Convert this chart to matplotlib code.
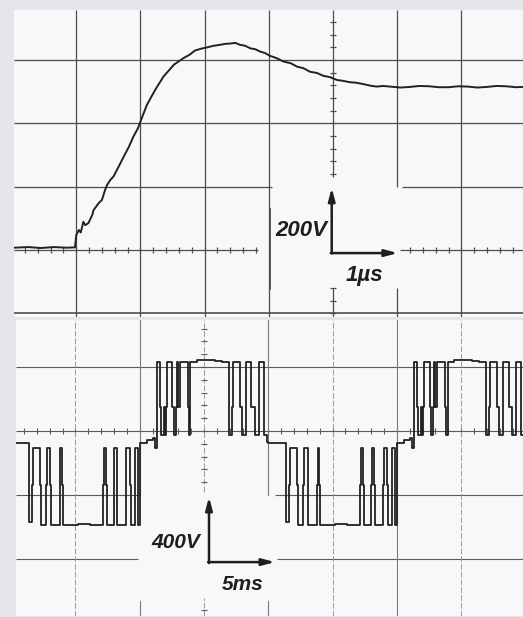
"""
Two oscilloscope screens: the rise of the output voltage (top) and the
multilevel PWM output voltage over two periods (bottom).
"""

import matplotlib
matplotlib.use("Agg")
import matplotlib.pyplot as plt
from matplotlib import font_manager

# ---- top screen: step response, 1 us/div, 200 V/div ----
rise_time_us = [-4.97, -4.75, -4.55, -4.35, -4.15, -4.02, -4.00, -3.96, -3.93,
                -3.89, -3.86, -3.81, -3.75, -3.73, -3.65, -3.60, -3.55, -3.52,
                -3.47, -3.42, -3.34, -3.26, -3.18, -3.11, -3.04, -2.99, -2.90,
                -2.77, -2.64, -2.48, -2.33, -2.24, -2.15, -2.05, -1.96, -1.86,
                -1.76, -1.68, -1.60, -1.52, -1.45, -1.37, -1.29, -1.21, -1.14,
                -1.06, -0.98, -0.88, -0.77, -0.66, -0.56, -0.46, -0.36, -0.25,
                -0.15, -0.05, 0.06, 0.16, 0.26, 0.37, 0.47, 0.58, 0.68, 0.78,
                0.89, 1.05, 1.20, 1.35, 1.50, 1.65, 1.80, 1.95, 2.10, 2.25,
                2.40, 2.55, 2.70, 2.85, 2.96]
rise_volt = [7, 9, 6, 9, 7, 8, 47, 63, 55,
             89, 78, 85, 111, 126, 148, 158, 190, 205,
             221, 232, 263, 295, 326, 358, 384, 411, 458,
             506, 548, 585, 606, 616, 630, 636, 640, 645,
             648, 651, 652, 654, 648, 645, 637, 634, 627,
             622, 613, 606, 595, 590, 579, 574, 563, 559,
             550, 546, 537, 534, 530, 528, 524, 519, 516, 518,
             516, 513, 515, 518, 517, 514, 514, 517, 516, 513,
             515, 518, 517, 514, 515]

# ---- bottom screen: PWM output, 5 ms/div, 400 V/div ----
# switching edges inside one half cycle (ms from its start) and level after it
pos_edge_ms = [0.00, 0.57, 1.03, 1.19, 1.35, 1.54, 1.62, 1.89, 1.97, 2.05,
               2.12, 2.55, 2.69, 2.80, 2.90, 3.00, 3.11, 3.78, 3.83, 3.95,
               4.46, 5.86, 6.40, 6.93, 6.97, 7.15, 7.28, 7.80, 7.93, 8.24,
               8.69, 8.97, 9.28, 9.69, 9.88]
pos_level_v = [-75, -56, -44, -106, 431, 150, -25, 150, -25, 150,
               431, 150, -25, 150, 431, 150, 431, 150, -25, 431,
               444, 437, 431, 150, -25, 150, 431, 150, -25, 431,
               150, -25, 431, -25, -69]
neg_edge_ms = [0.00, 1.39, 1.59, 1.70, 2.25, 2.33, 2.71, 2.79, 3.06, 3.10,
               3.80, 3.84, 3.96, 4.00, 5.20, 6.10, 7.15, 7.19, 7.38, 7.42,
               8.00, 8.04, 8.23, 8.27, 8.94, 8.97, 9.25, 9.29, 9.60, 9.64,
               9.83, 9.87]
neg_level_v = [-75, -569, -337, -106, -337, -587, -337, -106, -337, -587,
               -337, -106, -337, -587, -578, -587, -337, -106, -337, -587,
               -337, -106, -337, -587, -337, -106, -337, -587, -337, -106,
               -337, -587]
half_cycle_start_ms = [-15, -5, 5, 15]
half_cycle_sign = ["neg", "pos", "neg", "pos"]

available = {f.name for f in font_manager.fontManager.ttflist}
label_font = next((n for n in ["Liberation Sans Narrow", "Liberation Sans"]
                   if n in available), "DejaVu Sans")

fig = plt.figure(figsize=(5.23, 6.17), dpi=100, facecolor="#e5e5eb")
ax_top = fig.add_axes([0.0268, 0.4862, 0.9732, 0.4976])
ax_bot = fig.add_axes([0.0306, 0.0016, 0.9694, 0.4797])

GRID = "#4d4d4d"
TRACE = "#222222"


def seg_h(ax, y, x0, x1, **kw):
    ax.plot([x0, x1], [y, y], **kw)


def seg_v(ax, x, y0, y1, **kw):
    ax.plot([x, x], [y0, y1], **kw)


def ticks_h(ax, y, x0, x1, step, half, **kw):
    k = int(round(x0 / step)) - 1
    while k * step <= x1:
        x = k * step
        if x0 <= x <= x1:
            seg_v(ax, x, y - half, y + half, **kw)
        k += 1


def ticks_v(ax, x, y0, y1, step, half, **kw):
    k = int(round(y0 / step)) - 1
    while k * step <= y1:
        y = k * step
        if y0 <= y <= y1:
            seg_h(ax, y, x - half, x + half, **kw)
        k += 1


# ---------------- top screen ----------------
ax = ax_top
xmin, xmax, ymin, ymax = -4.97, 2.96, -212, 758
g = dict(color=GRID, lw=0.9, solid_capstyle="butt")
for v in (600, 400):
    seg_h(ax, v, xmin, xmax, **g)
seg_h(ax, 200, xmin, -0.95, **g)
seg_h(ax, 200, 1.07, xmax, **g)
seg_h(ax, -200, xmin, xmax, color=GRID, lw=1.2)
seg_h(ax, 0, xmin, -1.17, **g)
seg_h(ax, 0, 1.04, xmax, **g)
ticks_h(ax, 0, xmin, -1.17, 0.2, 9, **g)
ticks_h(ax, 0, 1.04, xmax, 0.2, 9, **g)
for t in (-4, -3, -2, 2):
    seg_v(ax, t, ymin, ymax, **g)
seg_v(ax, -1, ymin, ymax, **g)
seg_v(ax, -0.985, -125, 130, color=GRID, lw=1.3)
seg_v(ax, 0, 231, ymax, **g)
seg_v(ax, 0, ymin, -120, **g)
ticks_v(ax, 0, 231, ymax, 40, 0.047, **g)
ticks_v(ax, 0, ymin, -120, 40, 0.047, **g)
seg_v(ax, 1, 200, ymax, **g)
seg_v(ax, 1, ymin, -120, **g)

ax.plot(rise_time_us, rise_volt, color=TRACE, lw=1.4)

arrow = dict(arrowstyle="-|>,head_length=0.75,head_width=0.2", lw=1.8,
             color="#1e1e1e", shrinkA=0, shrinkB=0)
ax.annotate("", xy=(-0.02, 196), xytext=(-0.02, -11), arrowprops=arrow)
ax.annotate("", xy=(1.01, -10), xytext=(-0.035, -10), arrowprops=arrow)
ax.text(-0.09, 44, "200V", ha="right", va="baseline", fontsize=16,
        fontweight="bold", fontstyle="italic", family=label_font, color="#1e1e1e")
ax.text(0.19, -98, "1µs", ha="left", va="baseline", fontsize=16,
        fontweight="bold", fontstyle="italic", family=label_font, color="#1e1e1e")

ax.set_xlim(xmin, xmax)
ax.set_ylim(ymin, ymax)

# ---------------- bottom screen ----------------
ax = ax_bot
xmin, xmax, ymin, ymax = -14.62, 24.81, -1156, 694
g = dict(color="#5a5a5a", lw=0.8, solid_capstyle="butt")
faint = dict(color="#9a9a9a", lw=0.7, linestyle=(0, (6, 2)))
seg_h(ax, 400, xmin, xmax, **g)
seg_h(ax, 0, xmin, xmax, **g)
ticks_h(ax, 0, xmin, xmax, 1.0, 19, **g)
seg_h(ax, -400, xmin, -5.0, **g)
seg_h(ax, -400, 5.5, xmax, **g)
seg_h(ax, -800, xmin, -5.15, **g)
seg_h(ax, -800, 5.7, xmax, **g)
for t in (-10, 10, 20):
    seg_v(ax, t, ymin, ymax, **faint)
for t in (-5, 5):
    seg_v(ax, t, -400, ymax, color="#7a7a7a", lw=0.8)
    seg_v(ax, t, ymin, -1060, color="#7a7a7a", lw=0.8)
seg_v(ax, 15, ymin, ymax, color="#7a7a7a", lw=0.8)
seg_v(ax, 0, -381, ymax, **faint)
seg_v(ax, 0, ymin, -1044, **faint)
ticks_v(ax, 0, -381, ymax, 80, 0.233, **g)
ticks_v(ax, 0, ymin, -1044, 80, 0.233, **g)

pwm_t, pwm_v = [], []
for start, sign in zip(half_cycle_start_ms, half_cycle_sign):
    edges, levels = (pos_edge_ms, pos_level_v) if sign == "pos" else (neg_edge_ms, neg_level_v)
    pwm_t += [start + e for e in edges]
    pwm_v += levels
pwm_t.append(xmax + 0.5)
pwm_v.append(pwm_v[-1])
ax.plot(pwm_t, pwm_v, color=TRACE, lw=1.3, drawstyle="steps-post")

ax.annotate("", xy=(0.39, -412), xytext=(0.39, -825), arrowprops=arrow)
ax.annotate("", xy=(5.52, -819), xytext=(0.32, -819), arrowprops=arrow)
ax.text(-0.31, -731, "400V", ha="right", va="baseline", fontsize=15,
        fontweight="bold", fontstyle="italic", family=label_font, color="#1e1e1e")
ax.text(1.40, -994, "5ms", ha="left", va="baseline", fontsize=15,
        fontweight="bold", fontstyle="italic", family=label_font, color="#1e1e1e")

ax.set_xlim(xmin, xmax)
ax.set_ylim(ymin, ymax)

for a in (ax_top, ax_bot):
    a.set_facecolor("#f8f8fa")
    a.set_xticks([])
    a.set_yticks([])
    for s in a.spines.values():
        s.set_visible(False)

fig.savefig("out.png", dpi=100, facecolor=fig.get_facecolor())
plt.close(fig)
